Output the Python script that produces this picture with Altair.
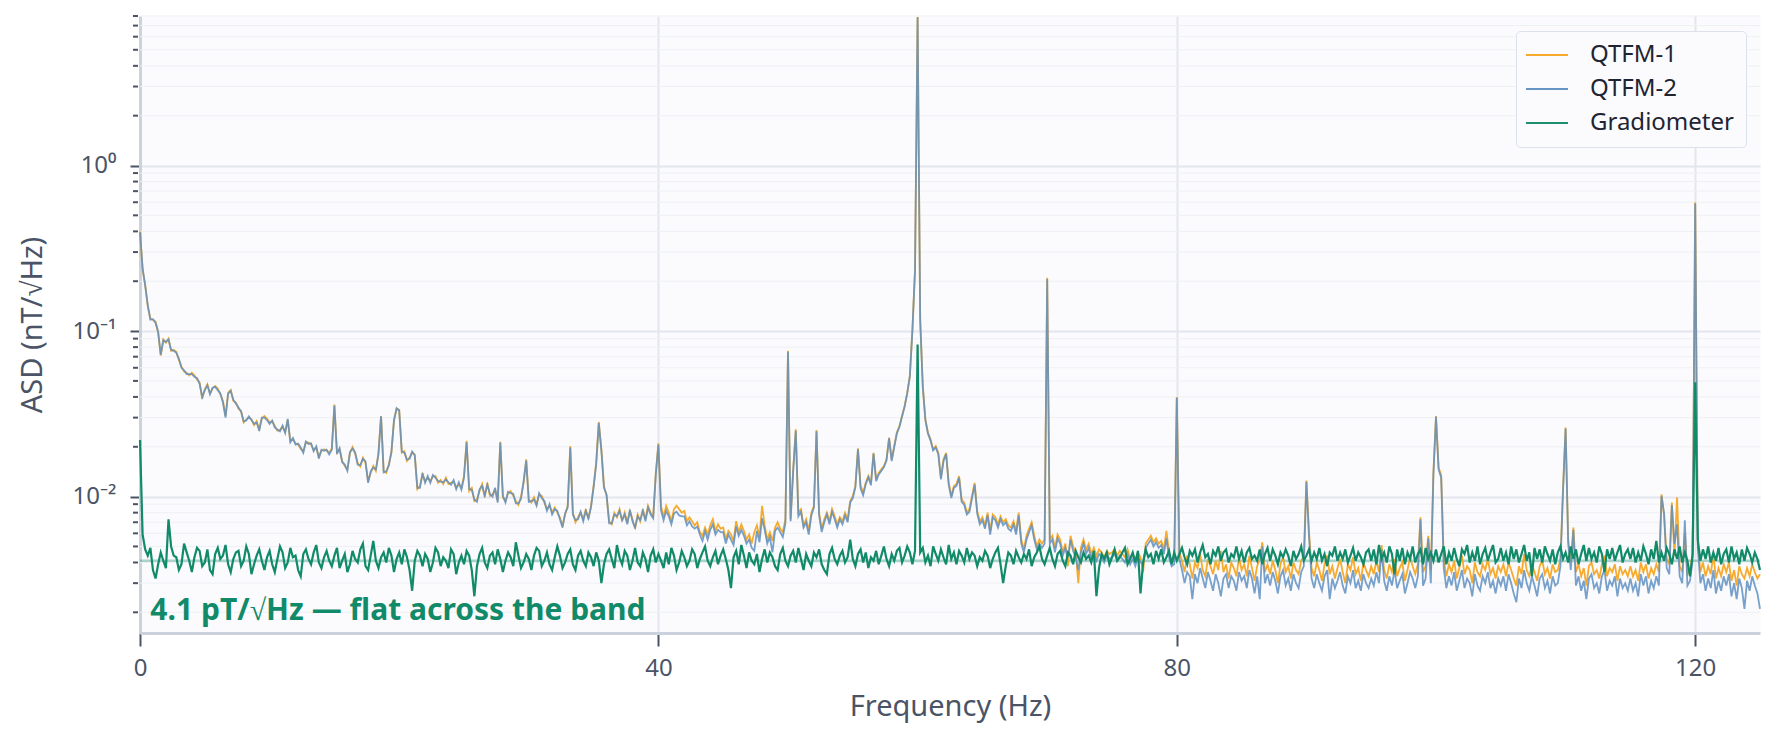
import altair as alt
import numpy as np
import pandas as pd

FONT = "Noto Sans"
INK = "#4a5466"
GREEN = "#118a69"
PLOT_W, PLOT_H = 1620, 617

BIN_HZ = 0.2  # spectral bin spacing, bins run from 0 to 125 Hz

series_names = ["QTFM-1", "QTFM-2", "Gradiometer"]
series_colors = ["#f6a623", "#5f8fc2", GREEN]

# amplitude spectral density in pT/sqrt(Hz), one value per 0.2 Hz bin, 5 Hz per row
qtfm1_pt = [
    400, 235, 191, 141, 119, 117, 114, 98, 71, 89, 85, 90, 76, 77, 75, 67, 61, 57, 56, 54, 56, 54, 51, 49, 39,
    44.5, 47.7, 42, 45, 46.6, 45, 41.5, 37.8, 30.7, 42.4, 44, 37.8, 37, 34, 33, 28, 29.3, 30, 29.3, 27, 28.6, 25.5, 29.6, 30.7, 29.6,
    28, 28.5, 26.7, 25, 25.3, 26.4, 24.6, 29, 21.7, 22.2, 21, 20.6, 19.4, 18.8, 21.3, 21.2, 20.7, 19.1, 19.8, 17.4, 18.9, 19.3, 18.9, 18.4, 19.5,
    36, 18.4, 19.3, 16.4, 15.3, 14.6, 18.4, 19.9, 18.2, 15.9, 15.2, 17.2, 16, 12.4, 13.9, 15.3, 14.3, 18.4, 30.7, 14.3, 13.9, 15.7, 18.4, 29.3, 34,
    33.4, 18.4, 18.8, 16.4, 17.2, 18.4, 18, 11.1, 11.6, 13.6, 12.4, 13, 12.4, 13.2, 13.3, 12.1, 12.6, 11.9, 13, 11.9, 12.1, 12.3, 11.3, 11.9, 11.3,
    13.3, 21.7, 10.8, 11.3, 9.4, 9.6, 10.8, 11.9, 9.9, 12.1, 10.1, 10.3, 11, 9.4, 21.4, 9.9, 9.4, 10.5, 10.8, 10.1, 9.4, 8.9, 10, 12.1, 16.8,
    9.6, 9.2, 9.9, 9.0, 10.3, 10.1, 9.2, 8.4, 8.8, 8.0, 8.6, 8.0, 7.5, 6.7, 7.8, 8.8, 20.2, 8.0, 7.0, 7.5, 8.0, 7.3, 8.4, 7.3, 8.8,
    11.6, 16, 28.3, 19.3, 11.6, 10.1, 7.1, 6.8, 8.0, 7.5, 8.4, 7.1, 8.0, 7.0, 8.2, 7.3, 6.4, 7.8, 7.1, 8.4, 7.3, 8.8, 8.0, 7.6, 13.9,
    21, 8.8, 7.5, 8.8, 8.0, 7.1, 8.4, 8.8, 8.4, 8.0, 8.2, 7.1, 7.5, 7.1, 6.7, 7.0, 6.1, 5.8, 6.5, 5.9, 6.7, 7.3, 6.2, 6.8, 6.4,
    6.5, 5.5, 6.2, 5.9, 5.4, 7.1, 6.1, 6.8, 6.2, 5.5, 5.9, 5.2, 6.1, 6.7, 5.7, 8.8, 6.7, 5.5, 6.1, 5.4, 6.5, 7.0, 6.4, 6.1, 7.3,
    76, 7.3, 14.6, 25.5, 8.0, 8.4, 6.7, 7.3, 6.2, 8.0, 8.8, 25.2, 8.0, 6.4, 7.3, 8.0, 7.1, 8.4, 7.6, 6.8, 7.5, 7.1, 8.0, 7.3, 9.4,
    10.1, 11.6, 19.6, 11.6, 10.6, 12.1, 13.3, 12.1, 18.4, 12.7, 13.9, 14.6, 15.3, 16.8, 22.7, 16.8, 20.2, 24.4, 26.7, 30.7, 35.3, 42.4, 53.5, 102, 235,
    7900, 117, 46.6, 29.3, 24.4, 22.2, 19.3, 20.2, 18.4, 13, 16.8, 18.4, 12.1, 10.1, 11.6, 11.9, 13.3, 9.6, 9.2, 8.0, 8.4, 10.1, 12.1, 8.2, 7.1,
    7.5, 6.7, 8.0, 6.2, 7.8, 7.5, 6.8, 7.6, 7.0, 7.3, 6.7, 6.5, 7.1, 6.2, 8.0, 5.5, 4.8, 5.8, 6.4, 7.0, 5.8, 5.0, 5.5, 5.2, 5.5,
    210, 5.5, 5.8, 4.9, 5.9, 5.5, 4.6, 5.2, 3.8, 5.8, 5.0, 4.6, 3.0, 4.9, 5.5, 4.8, 5.2, 4.5, 4.9, 4.4, 4.8, 4.6, 4.3, 4.7, 4.5,
    4.6, 4.8, 4.4, 4.7, 4.5, 4.3, 4.8, 4.2, 4.5, 4.1, 4.6, 4.3, 3.5, 5.2, 5.5, 5.8, 5.3, 5.6, 5.2, 5.4, 4.8, 6.2, 4.6, 4.0, 4.2,
    40, 4.6, 4.1, 3.5, 4.4, 3.9, 3.2, 4.0, 3.7, 4.5, 3.6, 3.3, 4.2, 3.8, 3.4, 4.1, 3.6, 4.7, 3.5, 3.9, 3.2, 4.0, 3.7, 3.3, 4.3,
    3.6, 3.9, 3.3, 4.4, 3.7, 3.1, 3.8, 4.2, 5.3, 3.5, 3.9, 3.4, 4.1, 3.6, 3.0, 3.9, 4.3, 3.5, 3.8, 3.2, 4.0, 3.6, 3.4, 4.1, 4.4,
    12.5, 6.1, 3.7, 3.3, 4.0, 3.6, 3.1, 3.9, 4.4, 3.4, 3.8, 3.2, 3.7, 4.2, 3.5, 3.0, 3.9, 3.6, 4.3, 3.4, 3.7, 3.1, 4.0, 3.6, 3.3,
    3.8, 3.4, 4.1, 3.5, 5.1, 3.6, 3.2, 3.9, 3.5, 4.2, 3.3, 3.7, 4.0, 3.1, 3.6, 4.3, 3.8, 3.4, 3.9, 7.5, 3.5, 3.8, 5.8, 3.6, 14,
    30.7, 15, 13.5, 4.2, 3.3, 3.9, 3.5, 4.1, 3.2, 3.7, 4.4, 3.4, 3.8, 3.6, 3.0, 4.0, 3.5, 3.3, 3.9, 3.6, 4.2, 3.4, 3.7, 3.2, 3.8,
    3.5, 3.9, 3.3, 4.0, 3.6, 3.2, 2.9, 3.8, 3.4, 4.5, 3.6, 3.3, 3.9, 3.5, 3.1, 3.8, 4.1, 3.4, 3.7, 3.2, 3.9, 3.5, 3.6, 4.2, 11,
    26.1, 5.5, 4.0, 6.5, 3.5, 3.9, 3.3, 3.7, 2.9, 3.8, 4.0, 3.4, 3.6, 3.2, 3.9, 4.4, 3.3, 3.7, 3.5, 3.9, 3.1, 3.8, 3.4, 3.6, 3.3,
    3.8, 3.3, 3.6, 3.1, 4.0, 3.5, 3.9, 3.2, 3.7, 3.4, 3.9, 3.5, 10.3, 7.7, 4.2, 3.9, 9.2, 4.4, 9.9, 3.8, 3.5, 6.0, 3.4, 3.6, 4.5,
    600, 5.2, 3.5, 4.0, 3.3, 3.8, 3.4, 4.5, 3.2, 3.7, 3.3, 3.9, 3.5, 4.0, 3.1, 3.6, 2.9, 3.8, 3.4, 3.2, 3.7, 3.3, 3.9, 3.5, 3.2,
    3.4,
]

qtfm2_pt = [
    395, 240, 188, 143, 117, 118, 112, 99, 72, 88, 86, 89, 77, 76, 74, 68, 60, 58, 55, 55, 55, 53, 52, 48, 40,
    44, 47, 41.5, 45.5, 46, 44, 42, 37, 30, 41.8, 43.5, 38.5, 36.5, 34.5, 32.5, 28.5, 28.8, 30.5, 29, 27.5, 28, 25, 30, 30, 29,
    27.5, 28.8, 26.2, 25.4, 24.8, 26.8, 24.2, 29.5, 21.3, 22.6, 20.6, 20.9, 19.8, 18.4, 21.5, 20.8, 21, 18.8, 20.1, 17, 19.2, 18.9, 19.2, 18, 19.2,
    35.5, 18.1, 19.6, 16.1, 15.6, 14.3, 18.6, 19.5, 18.5, 15.6, 15.5, 16.9, 16.3, 12.1, 14.2, 15, 14.6, 18, 30.5, 14, 14.2, 15.4, 18.7, 28.8, 34.2,
    33, 18.7, 18.4, 16.7, 16.9, 18.7, 17.7, 11.3, 11.3, 13.9, 12.1, 13.3, 12.1, 13.5, 13, 12.4, 12.3, 12.2, 12.7, 12.2, 11.8, 12.6, 11.1, 12.2, 11,
    13, 21.3, 11.1, 11, 9.6, 9.3, 11.1, 11.6, 10.2, 11.8, 10.4, 10, 11.3, 9.2, 21.2, 10.1, 9.2, 10.7, 10.5, 10.4, 9.1, 9.1, 9.7, 12.4, 16.5,
    9.3, 9.4, 9.6, 8.8, 10.5, 9.8, 9.4, 8.2, 9.0, 7.8, 8.4, 8.2, 7.3, 6.5, 7.9, 8.6, 19.8, 7.8, 7.2, 7.3, 8.1, 7.1, 8.2, 7.4, 8.6,
    11.4, 15.7, 27.8, 19, 11.3, 10.3, 6.9, 6.9, 7.8, 7.6, 8.2, 7.2, 7.8, 6.8, 8.3, 7.1, 6.5, 7.6, 7.2, 8.2, 7.1, 8.6, 7.8, 7.4, 13.6,
    20.6, 8.3, 7.2, 8.2, 7.6, 6.8, 7.9, 8.1, 7.7, 7.6, 7.6, 6.7, 7.1, 6.6, 6.4, 6.6, 5.9, 5.4, 6.2, 5.5, 6.3, 6.8, 5.9, 6.3, 6.1,
    6.1, 5.2, 5.9, 5.5, 5.1, 6.6, 5.8, 6.3, 5.8, 5.2, 5.5, 4.9, 4.7, 6.2, 5.3, 7.4, 6.3, 5.2, 5.7, 4.6, 6.2, 6.5, 6.1, 5.7, 6.9,
    75, 7.1, 14.2, 25, 7.6, 8.1, 6.5, 7.0, 5.9, 7.7, 8.6, 24.8, 7.7, 6.1, 7.0, 7.8, 6.8, 8.1, 7.3, 6.5, 7.3, 6.8, 7.7, 7.0, 9.2,
    9.8, 11.4, 19.3, 11.2, 10.2, 11.9, 13.1, 11.7, 18.2, 12.4, 13.6, 14.3, 15.1, 16.5, 22.5, 16.4, 20, 24.1, 26.4, 30.5, 35, 42, 53, 101, 232,
    7850, 116, 46, 29, 24, 21.8, 19, 19.8, 18, 12.7, 16.4, 18.1, 11.8, 9.8, 11.3, 11.6, 13, 9.3, 8.9, 7.8, 8.1, 9.8, 11.8, 7.9, 6.8,
    7.2, 6.4, 7.7, 5.9, 7.5, 7.2, 6.5, 7.3, 6.7, 7.0, 6.4, 6.2, 6.8, 5.9, 7.7, 5.2, 4.6, 5.5, 6.1, 6.7, 5.5, 4.8, 5.2, 4.9, 5.2,
    206, 5.2, 5.5, 4.6, 5.6, 5.2, 4.4, 4.9, 4.3, 5.5, 4.7, 4.3, 3.6, 4.6, 5.2, 4.5, 4.9, 4.2, 4.6, 4.1, 4.5, 4.3, 4.0, 4.4, 4.2,
    4.3, 4.5, 4.1, 4.4, 4.2, 4.0, 4.5, 3.9, 4.2, 3.8, 4.3, 4.0, 3.9, 4.9, 5.2, 5.5, 5.0, 5.3, 4.9, 5.1, 4.5, 5.6, 4.3, 3.8, 3.9,
    39.5, 4.2, 3.6, 3.0, 3.5, 3.3, 2.4, 3.4, 3.0, 3.7, 3.2, 2.8, 3.5, 3.1, 2.7, 3.4, 3.0, 2.5, 3.2, 3.4, 2.8, 3.3, 3.1, 2.7, 3.5,
    3.1, 3.3, 2.8, 3.6, 3.2, 2.6, 3.3, 2.4, 5.0, 3.0, 3.4, 2.9, 3.5, 3.1, 2.6, 3.3, 3.6, 2.9, 3.2, 2.7, 3.4, 3.0, 2.8, 3.5, 3.8,
    12.3, 5.8, 3.2, 2.8, 3.4, 3.0, 2.7, 3.3, 3.6, 2.4, 3.2, 2.8, 3.1, 3.5, 2.9, 2.6, 3.3, 3.0, 3.6, 2.8, 3.1, 2.7, 3.4, 3.0, 2.8,
    3.2, 2.9, 3.5, 3.0, 4.8, 3.1, 2.7, 3.3, 2.9, 3.6, 2.8, 3.1, 3.4, 2.6, 3.0, 3.5, 3.2, 2.8, 3.3, 7.3, 2.9, 3.2, 5.6, 3.0, 13.6,
    30.3, 14.6, 13, 3.7, 2.8, 3.3, 2.9, 3.5, 2.7, 3.1, 3.6, 2.8, 3.2, 3.0, 2.5, 3.4, 2.9, 2.7, 3.3, 3.0, 3.5, 2.8, 3.1, 2.6, 3.2,
    2.9, 3.3, 2.7, 3.4, 3.0, 2.6, 2.3, 3.2, 2.8, 3.6, 3.0, 2.7, 3.3, 2.9, 2.5, 3.2, 3.4, 2.8, 3.1, 2.6, 3.3, 2.9, 3.0, 3.8, 10.8,
    25.8, 5.2, 3.6, 6.3, 2.9, 3.3, 2.7, 3.1, 2.4, 3.2, 3.4, 2.8, 3.0, 2.6, 3.3, 3.6, 2.7, 3.1, 2.9, 3.3, 2.5, 3.2, 2.8, 3.0, 2.7,
    3.2, 2.7, 3.0, 2.5, 3.4, 2.9, 3.3, 2.6, 3.1, 2.8, 3.3, 2.9, 10.1, 7.9, 3.7, 3.4, 8.9, 5.2, 6.8, 3.3, 3.0, 7.2, 2.9, 3.1, 4.1,
    590, 4.9, 3.0, 3.4, 2.7, 3.2, 2.8, 3.6, 2.6, 3.1, 2.7, 3.3, 2.9, 3.4, 2.5, 3.0, 2.4, 3.2, 2.8, 2.1, 3.1, 2.7, 3.3, 2.9, 2.6,
    2.1,
]

grad_pt = [
    22, 5.9, 4.8, 4.4, 4.9, 3.6, 3.2, 3.9, 4.6, 4.1, 3.7, 7.3, 5.0, 4.4, 4.3, 3.6, 3.9, 5.2, 4.6, 4.1, 3.5, 4.3, 4.9, 4.7, 3.8,
    4.0, 4.8, 3.6, 3.4, 4.5, 4.9, 4.2, 4.4, 5.1, 3.9, 3.5, 4.2, 4.6, 4.7, 3.8, 4.1, 5.0, 4.5, 3.4, 3.9, 4.4, 4.8, 4.1, 3.6, 4.3,
    4.7, 3.9, 3.5, 4.2, 5.0, 4.6, 3.7, 4.0, 4.9, 4.3, 4.4, 3.6, 3.3, 4.5, 4.8, 4.2, 3.9, 4.6, 5.1, 4.0, 3.7, 4.3, 4.7, 4.1, 3.8,
    4.4, 4.9, 3.7, 4.1, 4.5, 3.5, 3.9, 4.7, 4.2, 4.0, 4.8, 5.2, 3.8, 3.6, 4.4, 5.4, 4.1, 3.7, 4.3, 4.6, 4.0, 4.9, 4.4, 3.5, 4.2,
    4.6, 3.9, 4.8, 4.3, 3.6, 2.7, 4.1, 4.7, 4.4, 3.8, 4.5, 4.2, 3.5, 4.0, 4.9, 4.6, 3.8, 4.3, 4.1, 3.7, 4.8, 4.5, 3.4, 4.0, 4.4,
    3.9, 4.7, 4.4, 3.6, 2.5, 3.8, 4.5, 4.9, 4.0, 3.7, 4.4, 4.6, 3.9, 4.8, 4.2, 3.5, 4.1, 4.6, 4.3, 3.8, 5.3, 4.4, 3.7, 4.0, 4.5,
    4.2, 3.6, 4.4, 4.9, 4.7, 3.8, 4.1, 4.6, 3.9, 3.6, 4.3, 5.0, 4.4, 3.7, 4.0, 4.5, 4.8, 3.9, 3.6, 4.4, 4.7, 4.1, 3.8, 4.6, 4.3,
    3.8, 4.6, 4.1, 3.0, 3.9, 4.5, 4.8, 4.2, 3.7, 5.1, 4.3, 3.9, 4.7, 4.4, 3.6, 4.1, 4.9, 4.0, 3.8, 4.6, 4.2, 3.5, 4.4, 4.8, 4.0,
    4.5, 4.1, 3.7, 4.6, 3.9, 4.9, 4.4, 3.6, 4.0, 4.7, 4.3, 3.8, 4.1, 4.8, 4.5, 3.7, 4.2, 4.6, 5.0, 4.1, 3.8, 4.3, 4.7, 3.9, 4.4,
    4.8, 4.2, 3.6, 2.8, 4.3, 4.7, 3.9, 5.1, 4.4, 3.7, 4.6, 4.1, 3.9, 4.5, 3.5, 4.2, 4.8, 4.0, 4.6, 4.3, 3.8, 3.6, 4.5, 4.9, 4.1,
    3.8, 4.4, 4.7, 4.0, 4.9, 4.2, 3.6, 4.5, 4.1, 3.8, 4.6, 4.3, 4.8, 3.9, 3.6, 3.4, 4.5, 4.9, 4.2, 3.9, 4.4, 4.7, 4.0, 4.3, 5.5,
    4.2, 3.8, 4.5, 4.8, 4.0, 4.6, 3.7, 4.3, 4.1, 4.7, 3.9, 4.4, 5.0, 4.2, 3.8, 4.5, 4.1, 4.7, 4.9, 4.0, 4.4, 5.0, 4.6, 3.9, 4.7,
    83, 4.6, 4.9, 4.0, 4.4, 3.8, 5.0, 4.5, 4.1, 4.8, 4.3, 3.9, 5.1, 4.2, 4.6, 3.9, 4.7, 4.4, 4.0, 4.9, 4.2, 4.6, 4.4, 3.8, 4.3,
    4.1, 4.7, 4.4, 3.7, 4.2, 4.6, 4.9, 3.9, 3.0, 3.8, 4.6, 4.4, 3.9, 4.7, 4.3, 4.0, 4.5, 4.2, 4.8, 3.8, 4.3, 4.6, 5.0, 4.2, 3.9,
    4.4, 4.9, 4.2, 3.8, 4.5, 4.7, 4.1, 3.8, 4.6, 4.4, 3.9, 4.7, 4.3, 4.0, 4.6, 4.2, 4.4, 4.0, 4.7, 2.5, 3.7, 4.5, 4.2, 4.6, 3.9,
    4.3, 4.8, 4.1, 4.3, 4.6, 4.9, 3.9, 4.2, 4.6, 4.0, 4.7, 2.6, 4.0, 4.8, 4.3, 4.5, 3.9, 4.7, 4.2, 4.8, 4.0, 4.3, 4.7, 3.9, 4.6,
    4.1, 4.5, 4.9, 4.3, 3.9, 4.7, 4.4, 4.8, 4.0, 4.6, 5.1, 4.3, 4.5, 3.9, 4.7, 4.4, 5.0, 4.1, 4.6, 4.8, 4.0, 4.5, 4.3, 5.0, 4.2,
    4.7, 4.0, 4.6, 4.9, 4.2, 4.4, 4.1, 4.8, 3.9, 4.5, 4.9, 4.1, 4.8, 4.4, 3.9, 4.6, 4.3, 4.8, 4.4, 3.8, 4.7, 4.2, 4.5, 5.0, 4.1,
    4.4, 4.8, 4.1, 4.6, 4.2, 4.9, 4.1, 4.5, 3.8, 4.6, 4.4, 5.0, 4.1, 4.6, 4.2, 4.8, 4.0, 4.4, 4.9, 4.1, 4.6, 4.3, 3.9, 4.6, 4.8,
    4.1, 4.8, 3.9, 5.1, 4.2, 4.6, 4.0, 5.0, 4.5, 3.4, 4.8, 4.1, 4.9, 3.9, 4.6, 4.2, 5.0, 4.0, 4.5, 4.8, 3.9, 4.9, 4.2, 4.6, 4.1,
    4.8, 4.0, 4.5, 5.0, 3.9, 4.6, 4.1, 4.9, 4.2, 3.8, 4.8, 4.5, 5.1, 4.0, 4.6, 4.1, 5.0, 3.9, 4.5, 4.9, 4.1, 4.6, 5.1, 4.0, 4.2,
    4.9, 4.1, 4.6, 3.9, 5.0, 4.2, 4.8, 4.0, 4.5, 5.1, 4.1, 4.6, 3.3, 4.9, 4.2, 4.8, 4.0, 5.0, 4.5, 4.1, 4.8, 3.9, 4.6, 5.0, 4.2,
    4.6, 4.0, 5.0, 4.2, 4.8, 3.9, 4.5, 5.1, 4.1, 4.9, 4.2, 4.6, 4.0, 5.0, 4.5, 3.5, 4.8, 4.2, 4.9, 4.1, 4.6, 5.1, 4.0, 4.5, 4.8,
    4.2, 4.9, 4.0, 4.6, 4.1, 5.0, 4.5, 3.9, 4.8, 4.2, 5.4, 4.0, 4.6, 4.1, 4.9, 4.5, 3.9, 4.8, 4.2, 5.0, 4.0, 4.6, 4.1, 3.3, 4.5,
    49, 5.5, 4.1, 4.8, 4.2, 5.0, 4.0, 4.6, 4.1, 4.9, 3.9, 4.5, 4.8, 4.0, 5.0, 4.2, 4.6, 3.9, 4.8, 4.1, 4.9, 4.5, 4.0, 4.6, 4.2,
    3.6,
]

x_ticks = [0, 40, 80, 120]
y_major = [0.01, 0.1, 1]
y_minor = [0.002, 0.003, 0.004, 0.005, 0.006, 0.007, 0.008, 0.009,
           0.02, 0.03, 0.04, 0.05, 0.06, 0.07, 0.08, 0.09,
           0.2, 0.3, 0.4, 0.5, 0.6, 0.7, 0.8, 0.9,
           2, 3, 4, 5, 6, 7, 8]
floor_nt = 0.0041
note_text = "4.1 pT/√Hz — flat across the band"
note_freq, note_asd = 0.8, 0.00179


def to_frame(name, values_pt):
    freq = np.round(np.arange(len(values_pt)) * BIN_HZ, 1)
    return pd.DataFrame({"freq": freq, "asd": np.array(values_pt) / 1000.0, "series": name})


spectra = pd.concat([to_frame(n, v) for n, v in zip(series_names, [qtfm1_pt, qtfm2_pt, grad_pt])])

x_enc = alt.X(
    "freq:Q",
    scale=alt.Scale(domain=[0, 125], nice=False, zero=False),
    axis=alt.Axis(
        values=x_ticks, format="d", labelFlush=False,
        labelFont=FONT, labelFontSize=24, labelColor=INK, labelPadding=10,
        tickSize=13, tickWidth=2, tickColor=INK,
        domainColor="#cbd2dd", domainWidth=3,
        gridColor="#e3e6ed", gridWidth=2,
        title="Frequency (Hz)", titleFont=FONT, titleFontSize=29,
        titleFontWeight="normal", titleColor=INK, titlePadding=12,
    ),
)
y_enc = alt.Y(
    "asd:Q",
    scale=alt.Scale(type="log", domain=[0.0015, 8], nice=False),
    axis=alt.Axis(
        values=y_major,
        labelExpr="datum.value == 1 ? '10⁰' : datum.value == 0.1 ? '10⁻¹' : '10⁻²'",
        labelFont=FONT, labelFontSize=24, labelColor=INK, labelPadding=14,
        tickSize=10, tickWidth=2, tickColor=INK,
        domainColor="#cbd2dd", domainWidth=3,
        gridColor="#e3e6ed", gridWidth=2,
        title="ASD (nT/√Hz)", titleFont=FONT, titleFontSize=29,
        titleFontWeight="normal", titleColor=INK, titlePadding=25,
    ),
)
# a wide, flat custom path keeps the legend rows compact while the sample line is long
color_enc = alt.Color(
    "series:N",
    scale=alt.Scale(domain=series_names, range=series_colors),
    legend=alt.Legend(
        title=None, orient="none", legendX=1376, legendY=15,
        symbolType="M-2,0L2,0", symbolSize=441, symbolStrokeWidth=2, symbolOffset=7,
        labelFont=FONT, labelFontSize=24, labelColor="#1f2433", labelOffset=31,
        fillColor="#fbfbfd", strokeColor="#dde2ea", cornerRadius=4,
        padding=12, rowPadding=10,
    ),
)

minor_grid = alt.Chart(pd.DataFrame({"asd": y_minor})).mark_rule(
    color="#eef0f4", strokeWidth=1
).encode(y=y_enc, x=alt.value(0), x2=alt.value(PLOT_W))

minor_ticks = alt.Chart(pd.DataFrame({"asd": y_minor})).mark_rule(
    color=INK, strokeWidth=2
).encode(y=y_enc, x=alt.value(-7), x2=alt.value(-2))

floor_line = alt.Chart(pd.DataFrame({"asd": [floor_nt]})).mark_rule(
    color=GREEN, opacity=0.35, strokeWidth=2.5
).encode(y=y_enc)

styles = {"QTFM-1": (1.8, 0.95), "QTFM-2": (1.8, 0.85), "Gradiometer": (2.2, 1.0)}
lines = []
for name in series_names:
    width, alpha = styles[name]
    lines.append(
        alt.Chart(spectra)
        .transform_filter(alt.FieldEqualPredicate(field="series", equal=name))
        .mark_line(strokeWidth=width, opacity=alpha)
        .encode(x=x_enc, y=y_enc, color=color_enc)
    )

note = alt.Chart(
    pd.DataFrame({"freq": [note_freq], "asd": [note_asd], "label": [note_text]})
).mark_text(
    align="left", baseline="alphabetic", font=FONT, fontSize=30,
    fontWeight="bold", color=GREEN
).encode(x=x_enc, y=y_enc, text="label:N")

chart = alt.layer(minor_grid, floor_line, *lines, note, minor_ticks).properties(
    width=PLOT_W,
    height=PLOT_H,
    autosize=alt.AutoSizeParams(type="none"),
    padding={"left": 132, "top": 8, "right": 8, "bottom": 103},
).configure_view(
    fill="#fbfbfd", stroke="transparent"
)

chart.save("out.html", embed_options={"renderer": "svg", "actions": False})
